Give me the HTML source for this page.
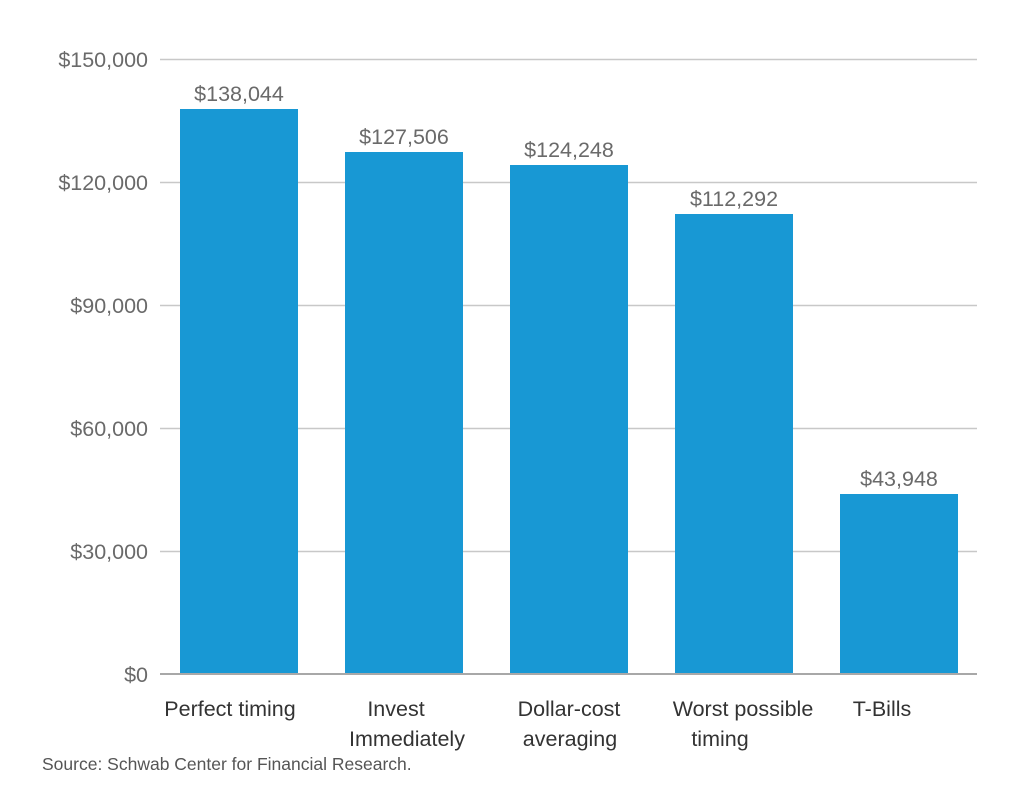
<!DOCTYPE html>
<html><head><meta charset="utf-8"><style>
html,body{margin:0;padding:0;background:#fff;}
svg{display:block;font-family:"Liberation Sans",Arial,sans-serif;}
</style></head><body>
<svg width="1035" height="800" viewBox="0 0 1035 800" xmlns="http://www.w3.org/2000/svg">
<g stroke="#c8c8c8" stroke-width="1.5">
<line x1="160" y1="59.5" x2="977" y2="59.5"/>
<line x1="160" y1="182.5" x2="977" y2="182.5"/>
<line x1="160" y1="305.5" x2="977" y2="305.5"/>
<line x1="160" y1="428.5" x2="977" y2="428.5"/>
<line x1="160" y1="551.5" x2="977" y2="551.5"/>
</g>
<g fill="#6a6a6a" font-size="21.5" text-anchor="end">
<text x="148" y="67">$150,000</text>
<text x="148" y="190">$120,000</text>
<text x="148" y="313">$90,000</text>
<text x="148" y="436">$60,000</text>
<text x="148" y="559">$30,000</text>
<text x="148" y="682">$0</text>
</g>
<g fill="#1898d4">
<rect x="180" y="109" width="118" height="565"/>
<rect x="345" y="152" width="118" height="522"/>
<rect x="510" y="165" width="118" height="509"/>
<rect x="675" y="214" width="118" height="460"/>
<rect x="840" y="494" width="118" height="180"/>
</g>
<line x1="160" y1="674" x2="977" y2="674" stroke="#a8a8a8" stroke-width="2"/>
<g fill="#6a6a6a" font-size="21.5" text-anchor="middle">
<text x="239" y="101">$138,044</text>
<text x="404" y="144">$127,506</text>
<text x="569" y="157">$124,248</text>
<text x="734" y="206">$112,292</text>
<text x="899" y="486">$43,948</text>
</g>
<g fill="#333" font-size="21.5" text-anchor="middle">
<text x="230" y="716">Perfect timing</text>
<text x="396" y="716">Invest</text>
<text x="407" y="746">Immediately</text>
<text x="569" y="716">Dollar-cost</text>
<text x="570" y="746">averaging</text>
<text x="743" y="716">Worst possible</text>
<text x="720" y="746">timing</text>
<text x="882" y="716">T-Bills</text>
</g>
<text x="42" y="770" fill="#555" font-size="17.5">Source: Schwab Center for Financial Research.</text>
</svg>
</body></html>
